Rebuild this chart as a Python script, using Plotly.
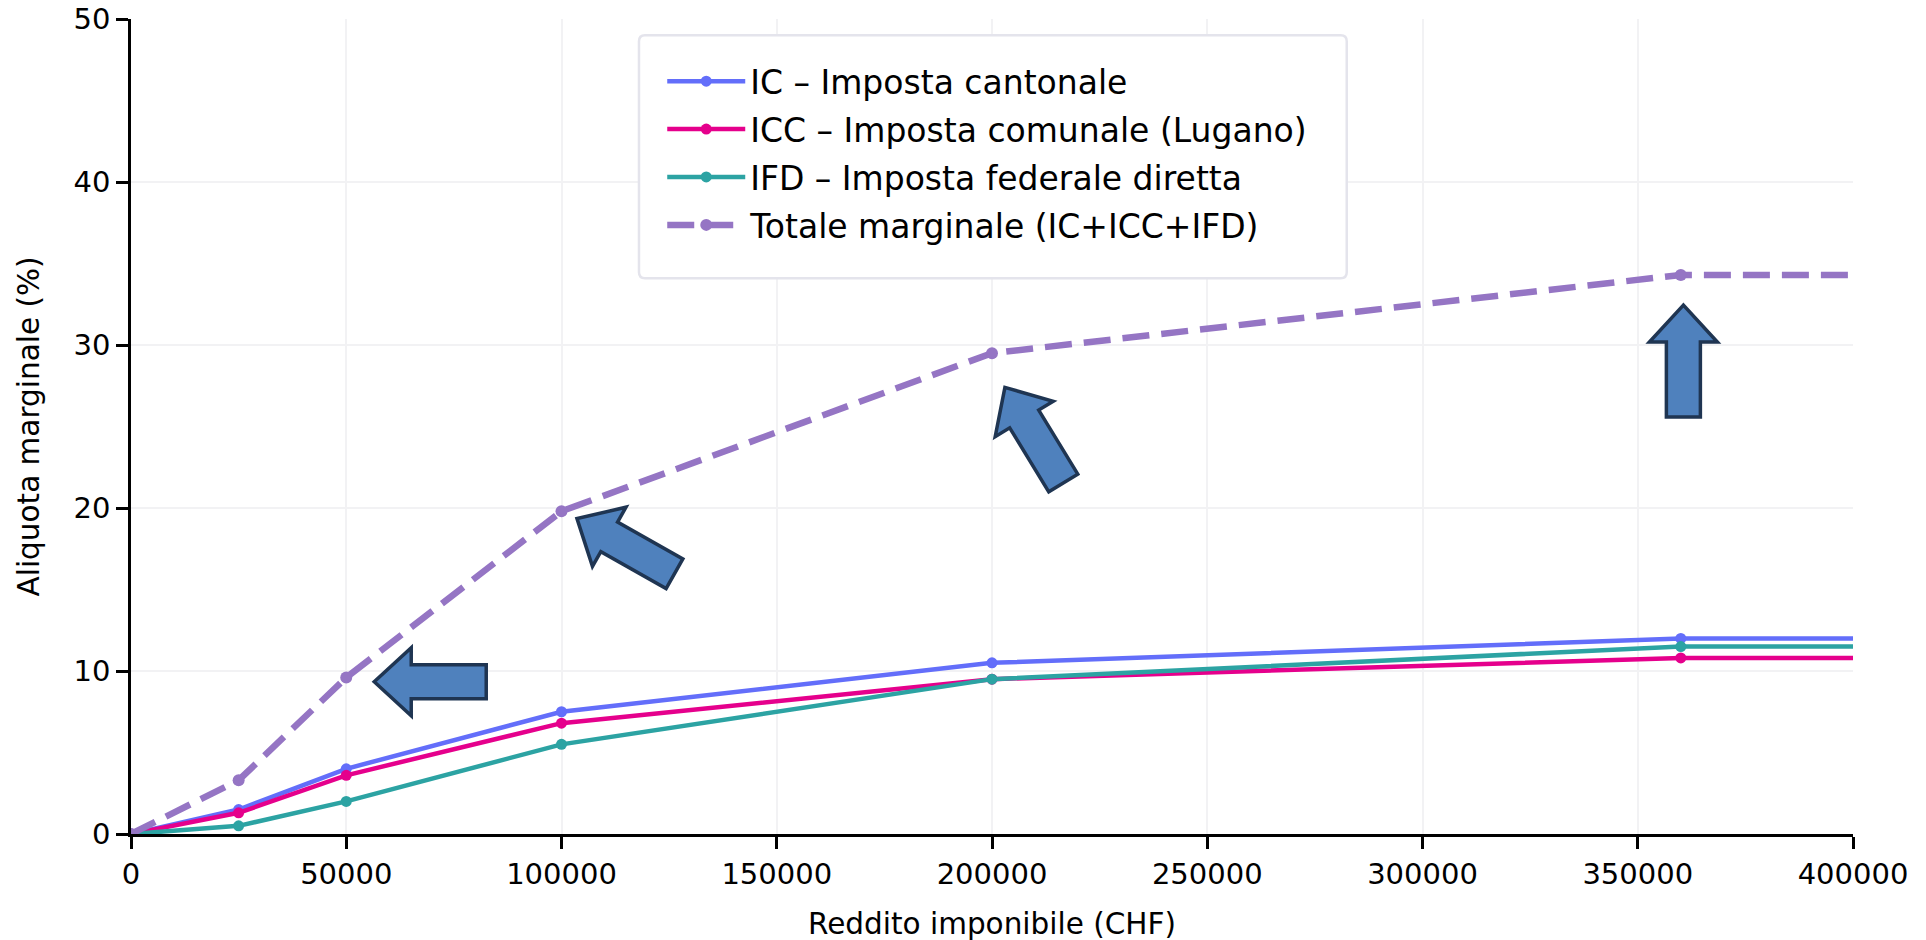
import math
import plotly.graph_objects as go

# ---- data ----
reddito = [0, 25000, 50000, 100000, 200000, 360000, 500000]
ic = [0, 1.5, 4.0, 7.5, 10.5, 12.0, 12.0]
icc = [0, 1.3, 3.6, 6.8, 9.5, 10.8, 10.8]
ifd = [0, 0.5, 2.0, 5.5, 9.5, 11.5, 11.5]
totale = [a + b + c for a, b, c in zip(ic, icc, ifd)]

series_names = [
    "IC – Imposta cantonale",
    "ICC – Imposta comunale (Lugano)",
    "IFD – Imposta federale diretta",
    "Totale marginale (IC+ICC+IFD)",
]
x_ticks = [0, 50000, 100000, 150000, 200000, 250000, 300000, 350000, 400000]
y_ticks = [0, 10, 20, 30, 40, 50]

# arrow annotations: tip position (data) and direction (degrees)
arrow_tip_x = [56500, 103600, 203000, 360600]
arrow_tip_y = [9.34, 19.35, 27.4, 32.45]
arrow_angle = [180, 150.5, 121.4, 90]

FONT = "DejaVu Sans"
colors = ["#636EFA", "#E5008C", "#2CA3A3", "#9575C4"]

# plot geometry (px)
W, Hh = 1926, 940
ML, MR, MT, MB = 123, 81, 11, 114
PW, PH = W - ML - MR, Hh - MT - MB

fig = go.Figure()
for i, (name, ys, col) in enumerate(zip(series_names[:3], [ic, icc, ifd], colors[:3])):
    fig.add_trace(go.Scatter(
        x=reddito, y=ys, name=name, mode="lines+markers", legendgroup=f"g{i}",
        line=dict(color=col, width=4.5),
        marker=dict(size=11, color=col),
    ))
fig.add_trace(go.Scatter(
    x=reddito, y=totale, name=series_names[3], mode="lines+markers", legendgroup="g3",
    line=dict(color=colors[3], width=6.5, dash="27px,12px"),
    marker=dict(size=12, color=colors[3]),
))

# block arrows (pixel-sized, anchored at tip)
L, h, Hd, w = 112, 37, 68, 34
local = [(0, 0), (-h, Hd / 2), (-h, w / 2), (-L, w / 2), (-L, -w / 2), (-h, -w / 2), (-h, -Hd / 2)]
for tx, ty, ang in zip(arrow_tip_x, arrow_tip_y, arrow_angle):
    t = math.radians(ang)
    pts = [(u * math.cos(t) - v * math.sin(t), u * math.sin(t) + v * math.cos(t)) for u, v in local]
    path = "M " + " L ".join(f"{px:.2f},{py:.2f}" for px, py in pts) + " Z"
    fig.add_shape(
        type="path", path=path, xref="x", yref="y",
        xsizemode="pixel", ysizemode="pixel", xanchor=tx, yanchor=ty,
        fillcolor="#4F81BD", line=dict(color="#1F3552", width=3.5), layer="above",
    )

# legend frame (rounded box) in paper coords
bx0, bx1 = 0.295, 0.706
by0, by1 = 0.682, 0.980
rx, ry = 6 / PW, 6 / PH
box = (f"M {bx0+rx},{by1} L {bx1-rx},{by1} Q {bx1},{by1} {bx1},{by1-ry} "
       f"L {bx1},{by0+ry} Q {bx1},{by0} {bx1-rx},{by0} L {bx0+rx},{by0} "
       f"Q {bx0},{by0} {bx0},{by0+ry} L {bx0},{by1-ry} Q {bx0},{by1} {bx0+rx},{by1} Z")
fig.add_shape(type="path", path=box, xref="paper", yref="paper",
              fillcolor="white", line=dict(color="#e4e4ec", width=2.5), layer="above")

axis_common = dict(
    showline=True, linecolor="black", linewidth=2.5,
    ticks="outside", ticklen=12, tickwidth=2.5, tickcolor="black",
    showgrid=True, gridcolor="#f2f2f4", gridwidth=1.5,
    zeroline=False, mirror=False, ticklabeloverflow="allow", automargin=False,
    tickfont=dict(family=FONT, size=29, color="black"),
)
fig.update_layout(
    width=W, height=Hh,
    margin=dict(l=ML, r=MR, t=MT, b=MB, autoexpand=False),
    paper_bgcolor="white", plot_bgcolor="white",
    font=dict(family=FONT, color="black"),
    xaxis=dict(range=[0, 400000], tickvals=x_ticks, tickformat="d",
               title=dict(text="Reddito imponibile (CHF)", font=dict(family=FONT, size=29.5), standoff=24),
               **axis_common),
    yaxis=dict(range=[0, 50], tickvals=y_ticks,
               title=dict(text="Aliquota marginale (%)", font=dict(family=FONT, size=29.5), standoff=26),
               **axis_common),
    legend=dict(x=0.3085, y=0.958, xanchor="left", yanchor="top",
                bgcolor="rgba(0,0,0,0)", borderwidth=0,
                font=dict(family=FONT, size=33, color="black"),
                itemwidth=78, tracegroupgap=2),
    showlegend=True,
)

fig.write_html("out.html")
